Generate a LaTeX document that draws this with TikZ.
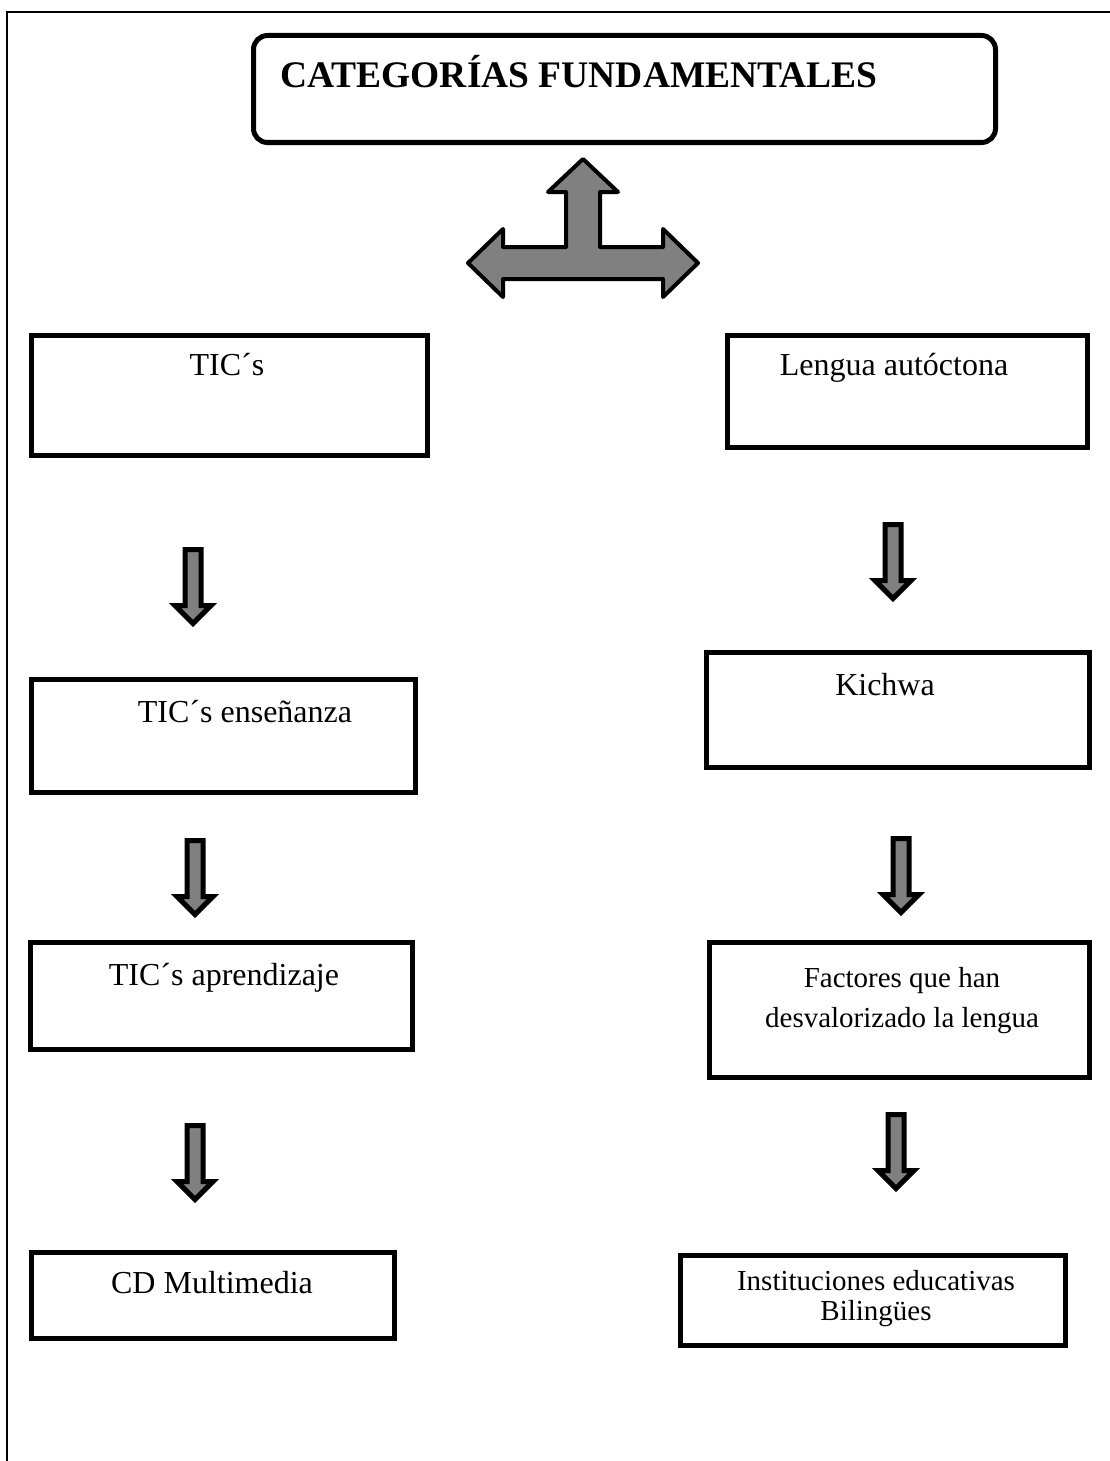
\documentclass[tikz,border=0pt]{standalone}
\usepackage{fontspec}
\setmainfont{Liberation Serif}
\definecolor{arrgray}{RGB}{128,128,128}
\begin{document}
\begin{tikzpicture}[x=1pt,y=-1pt,
  box/.style={draw=black,line width=5pt,rectangle,inner sep=0pt,outer sep=0pt},
  titlebox/.style={box,rounded corners=14pt},
  label/.style={inner sep=0pt,outer sep=0pt,font=\fontsize{32}{38}\selectfont},
  smalllabel/.style={inner sep=0pt,outer sep=0pt,align=center},
  blockarrow/.style={draw=black,fill=arrgray,line width=5pt,line join=miter},
  bigarrow/.style={draw=black,fill=arrgray,line width=4pt,line join=round},
  downarr/.pic={\draw[blockarrow] (-8,0) -- (8,0) -- (8,56) -- (18,56) -- (0,74) -- (-18,56) -- (-8,56) -- cycle;}
]
\useasboundingbox (0,0) rectangle (1110,1461);
% frame
\coordinate (frameTL) at (7,12);
\coordinate (frameTR) at (1110,12);
\coordinate (frameBL) at (7,1461);
\draw[line width=2.5pt] (frameBL) -- (frameTL) -- (frameTR);

% title
\node[titlebox,minimum width=742pt,minimum height=107pt] (title) at (624.5,89) {};
\node[inner sep=0pt,anchor=base west,font=\fontsize{37.5}{40}\selectfont\bfseries] (titletext) at (280,88) {CATEGORÍAS FUNDAMENTALES};

% big T arrow
\draw[bigarrow] (583,159) -- (618,192) -- (600,192) -- (600,247) -- (663,247) -- (663,229) -- (698,263) -- (663,297) -- (663,279) -- (503,279) -- (503,297) -- (468,263) -- (503,229) -- (503,247) -- (566,247) -- (566,192) -- (548,192) -- cycle;

% left column
\node[box,minimum width=396pt,minimum height=120pt] (tics) at (229.5,395.5) {};
\node[label,anchor=base] (ticstext) at (227,375) {TIC´s};
\node[box,minimum width=384pt,minimum height=113pt] (ens) at (223.5,736) {};
\node[label,anchor=base] (enstext) at (245,722) {TIC´s enseñanza};
\node[box,minimum width=382pt,minimum height=107pt] (apr) at (221.5,996) {};
\node[label,anchor=base] (aprtext) at (224,985) {TIC´s aprendizaje};
\node[box,minimum width=363pt,minimum height=86pt] (cd) at (213,1295.5) {};
\node[label,anchor=base] (cdtext) at (212,1293) {CD Multimedia};

% right column
\node[box,minimum width=360pt,minimum height=112pt] (lengua) at (907.5,391.5) {};
\node[label,anchor=base] (linguatext) at (894,375) {Lengua autóctona};
\node[box,minimum width=383pt,minimum height=115pt] (kichwa) at (898,710) {};
\node[label,anchor=base] (kichwatext) at (885,695) {Kichwa};
\node[box,minimum width=380pt,minimum height=135pt] (fact) at (899.5,1010) {};
\node[smalllabel,anchor=base,font=\fontsize{29}{40}\selectfont] (facttext) at (902,1027) {Factores que han\\desvalorizado la lengua};
\node[box,minimum width=385pt,minimum height=90pt] (inst) at (873,1300.5) {};
\node[smalllabel,anchor=base,font=\fontsize{29}{30}\selectfont] (insttext) at (876,1320) {Instituciones educativas\\Bilingües};

% down arrows
\pic at (193,549.5) {downarr};
\pic at (195,840.5) {downarr};
\pic at (195,1125.5) {downarr};
\pic at (893,524.5) {downarr};
\pic at (901,838.5) {downarr};
\pic at (896,1114.5) {downarr};
\end{tikzpicture}
\end{document}
